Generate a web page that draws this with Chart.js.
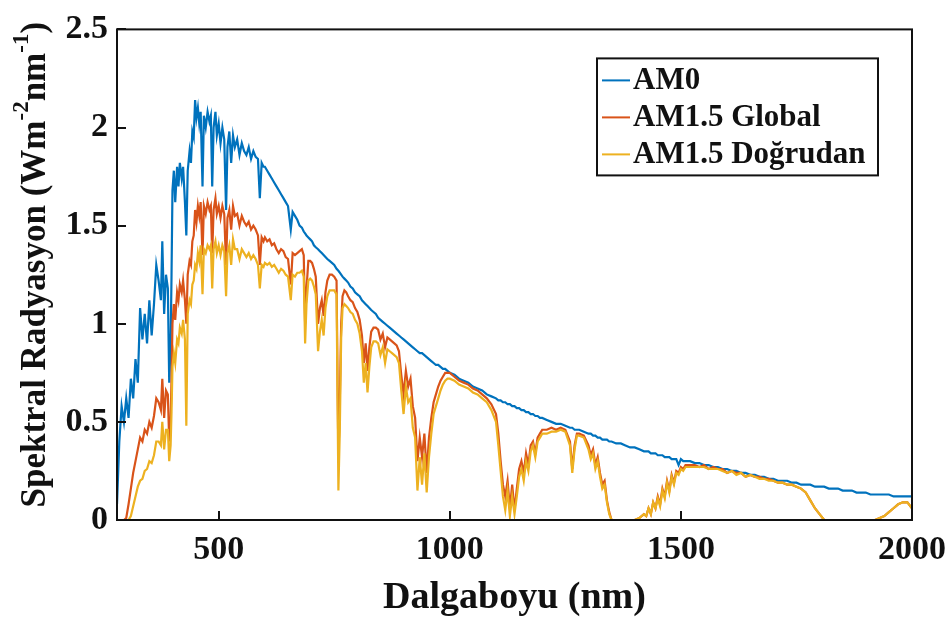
<!DOCTYPE html>
<html>
<head>
<meta charset="utf-8">
<title>Spektral Radyasyon</title>
<script src="https://cdn.jsdelivr.net/npm/chart.js@4.4.1/dist/chart.umd.min.js"></script>
<style>
  html, body { margin: 0; padding: 0; background: #fff; }
  #wrap { width: 952px; height: 619px; }
</style>
</head>
<body>
<div id="wrap"><canvas id="spectrum" width="952" height="619"></canvas></div>
<script>
// Wavelengths (nm), denser in the visible where the lines are
const wavelengths = [
  280, 285, 290, 295, 300, 305, 310, 315, 320, 325, 330, 335, 340, 345, 350, 355, 360, 365, 370, 375,
  378, 382, 386, 390, 393, 396, 398, 400, 403, 406, 410, 413, 416, 420, 423, 427, 430, 433, 437, 440, 443, 446, 449,
  452, 455, 458, 461, 465, 468, 472, 476, 480, 483, 486, 489, 493, 496, 500, 504, 508, 512, 516, 519, 523, 527, 531,
  535, 540, 545, 550, 555, 560, 565, 570, 575, 580, 585, 589, 593, 597, 600, 605, 610, 615, 620, 625, 630, 635, 640, 645, 650, 656,
  660, 665, 670, 675, 680, 684, 687, 690, 694, 698, 702, 706, 710, 715, 719, 723, 727, 731, 735, 740, 745, 750, 755, 759,
  762, 765, 768, 772, 776, 780, 785, 790, 795, 800, 805, 810, 814, 818, 822, 826, 830, 835, 840, 845, 850, 855, 860, 865, 870, 875, 880, 885, 890, 895, 900,
  905, 910, 915, 920, 925, 930, 935, 940, 945, 950, 955, 960, 965, 970, 975, 980, 985, 990, 995, 1000,
  1010, 1020, 1030, 1040, 1050, 1060, 1070, 1080, 1090, 1100, 1105, 1110, 1115, 1120, 1125, 1130, 1135, 1140, 1145, 1150,
  1155, 1160, 1165, 1170, 1175, 1180, 1185, 1190, 1195, 1200,
  1210, 1220, 1230, 1240, 1250, 1260, 1265, 1270, 1275, 1280, 1290, 1300, 1305, 1310, 1315, 1320, 1325, 1330, 1335, 1340, 1345, 1350,
  1360, 1370, 1380, 1390, 1400, 1410, 1420, 1425, 1430, 1435, 1440, 1445, 1450, 1455, 1460, 1465, 1470, 1475, 1480, 1485, 1490, 1495, 1500,
  1505, 1510, 1520, 1530, 1540, 1550, 1560, 1570, 1580, 1590, 1600, 1610, 1620, 1630, 1640, 1650, 1660, 1670, 1680, 1690,
  1700, 1710, 1720, 1730, 1740, 1750, 1760, 1770, 1780, 1790, 1800,
  1810, 1820, 1830, 1840, 1850, 1860, 1870, 1880, 1890, 1900, 1910, 1920, 1930, 1940, 1950, 1960, 1970, 1980, 1990, 2000
];

// Extraterrestrial spectrum
const am0 = [
  0.08, 0.40, 0.58, 0.50, 0.62, 0.52, 0.72, 0.62, 0.82, 0.70, 1.08, 0.92, 1.05, 0.90, 1.12, 0.94, 1.10, 1.30, 1.22, 1.12,
  1.42, 1.05, 1.25, 1.18, 0.70, 0.90, 1.25, 1.68, 1.78, 1.62, 1.80, 1.70, 1.82, 1.74, 1.80, 1.62, 1.45, 1.78, 1.88, 1.82, 1.98, 1.95, 2.14,
  2.05, 2.10, 2.02, 2.08, 1.70, 2.06, 2.00, 2.08, 2.03, 2.06, 1.70, 2.00, 2.08, 1.96, 2.02, 1.92, 2.00, 1.94, 1.58, 1.90, 1.98, 1.82, 1.96,
  1.90, 1.94, 1.86, 1.92, 1.88, 1.86, 1.90, 1.84, 1.88, 1.85, 1.84, 1.64, 1.82, 1.80, 1.80, 1.78, 1.76, 1.74, 1.72, 1.70, 1.68, 1.66, 1.64, 1.62, 1.60, 1.48,
  1.57, 1.55, 1.53, 1.50, 1.49, 1.47, 1.46, 1.45, 1.44, 1.43, 1.42, 1.40, 1.39, 1.38, 1.37, 1.36, 1.35, 1.34, 1.33, 1.32, 1.31, 1.30, 1.28, 1.27,
  1.26, 1.25, 1.24, 1.23, 1.22, 1.21, 1.19, 1.18, 1.16, 1.15, 1.14, 1.12, 1.11, 1.10, 1.09, 1.08, 1.07, 1.06, 1.05, 1.03, 1.02, 1.01, 1.00, 0.99, 0.98, 0.97, 0.96, 0.95, 0.94, 0.93, 0.92,
  0.91, 0.90, 0.89, 0.88, 0.87, 0.86, 0.85, 0.85, 0.84, 0.83, 0.82, 0.81, 0.80, 0.79, 0.79, 0.78, 0.77, 0.77, 0.76, 0.75,
  0.74, 0.72, 0.71, 0.70, 0.68, 0.67, 0.66, 0.64, 0.63, 0.62, 0.61, 0.61, 0.60, 0.60, 0.59, 0.59, 0.58, 0.58, 0.57, 0.57,
  0.56, 0.56, 0.55, 0.55, 0.54, 0.54, 0.53, 0.53, 0.52, 0.52,
  0.51, 0.50, 0.49, 0.49, 0.48, 0.47, 0.47, 0.46, 0.46, 0.46, 0.45, 0.44, 0.44, 0.43, 0.43, 0.42, 0.42, 0.41, 0.41, 0.41, 0.40, 0.40,
  0.39, 0.39, 0.38, 0.37, 0.37, 0.36, 0.35, 0.35, 0.35, 0.34, 0.34, 0.34, 0.33, 0.33, 0.33, 0.32, 0.32, 0.32, 0.31, 0.31, 0.31, 0.28, 0.31,
  0.30, 0.30, 0.30, 0.29, 0.29, 0.28, 0.28, 0.27, 0.27, 0.26, 0.26, 0.25, 0.25, 0.24, 0.24, 0.23, 0.23, 0.22, 0.22, 0.21,
  0.21, 0.20, 0.20, 0.20, 0.19, 0.19, 0.18, 0.18, 0.18, 0.17, 0.17,
  0.17, 0.16, 0.16, 0.16, 0.15, 0.15, 0.15, 0.14, 0.14, 0.14, 0.13, 0.13, 0.13, 0.13, 0.13, 0.12, 0.12, 0.12, 0.12, 0.12
];

// Ground level, global tilt
const am15Global = [
  0, 0, 0, 0, 0.01, 0.08, 0.16, 0.24, 0.30, 0.36, 0.42, 0.40, 0.46, 0.44, 0.50, 0.47, 0.53, 0.62, 0.60, 0.56,
  0.72, 0.52, 0.66, 0.64, 0.40, 0.50, 0.72, 1.00, 1.10, 1.02, 1.16, 1.12, 1.20, 1.16, 1.22, 1.12, 1.00, 1.25, 1.32, 1.30, 1.42, 1.45, 1.58,
  1.52, 1.60, 1.55, 1.62, 1.35, 1.60, 1.56, 1.62, 1.58, 1.60, 1.36, 1.58, 1.64, 1.56, 1.60, 1.54, 1.60, 1.56, 1.30, 1.54, 1.58, 1.48, 1.60,
  1.55, 1.56, 1.50, 1.55, 1.52, 1.50, 1.52, 1.48, 1.50, 1.48, 1.45, 1.30, 1.44, 1.42, 1.44, 1.42, 1.43, 1.40, 1.41, 1.38, 1.36, 1.38, 1.37, 1.34, 1.33, 1.20,
  1.36, 1.35, 1.36, 1.37, 1.38, 1.35, 1.00, 1.18, 1.32, 1.32, 1.31, 1.28, 1.24, 1.00, 1.08, 1.12, 1.04, 1.16, 1.22, 1.25, 1.25, 1.24, 1.22, 0.30,
  0.60, 1.00, 1.14, 1.17, 1.16, 1.14, 1.12, 1.11, 1.08, 1.06, 1.02, 0.94, 0.80, 0.90, 0.76, 0.88, 0.96, 0.98, 0.98, 0.97, 0.92, 0.95, 0.88, 0.93, 0.92, 0.91, 0.90, 0.89, 0.86, 0.74, 0.64,
  0.76, 0.68, 0.72, 0.58, 0.52, 0.30, 0.42, 0.32, 0.44, 0.24, 0.42, 0.52, 0.60, 0.64, 0.68, 0.71, 0.73, 0.75, 0.75, 0.75,
  0.73, 0.71, 0.70, 0.69, 0.67, 0.66, 0.64, 0.62, 0.59, 0.54, 0.44, 0.30, 0.18, 0.12, 0.20, 0.06, 0.18, 0.05, 0.16, 0.26,
  0.30, 0.24, 0.34, 0.28, 0.38, 0.40, 0.34, 0.42, 0.44, 0.46,
  0.46, 0.47, 0.46, 0.47, 0.46, 0.40, 0.26, 0.38, 0.44, 0.44, 0.43, 0.38, 0.33, 0.36, 0.28, 0.32, 0.24, 0.18, 0.20, 0.10, 0.04, 0.00,
  0, 0, 0, 0, 0, 0.01, 0.03, 0.02, 0.06, 0.03, 0.09, 0.06, 0.12, 0.08, 0.16, 0.12, 0.20, 0.15, 0.23, 0.19, 0.25, 0.24, 0.27,
  0.26, 0.28, 0.28, 0.28, 0.27, 0.28, 0.26, 0.27, 0.26, 0.26, 0.24, 0.25, 0.24, 0.24, 0.22, 0.23, 0.22, 0.22, 0.21, 0.21,
  0.20, 0.19, 0.19, 0.18, 0.18, 0.17, 0.16, 0.14, 0.10, 0.06, 0.03,
  0, 0, 0, 0, 0, 0, 0, 0, 0, 0, 0, 0, 0.01, 0.02, 0.04, 0.06, 0.08, 0.09, 0.09, 0.06
];

// Ground level, direct beam
const am15Direct = [
  0, 0, 0, 0, 0, 0, 0.02, 0.07, 0.12, 0.17, 0.20, 0.21, 0.25, 0.26, 0.30, 0.29, 0.33, 0.40, 0.40, 0.38,
  0.50, 0.36, 0.46, 0.46, 0.30, 0.38, 0.55, 0.78, 0.85, 0.80, 0.92, 0.90, 0.98, 0.95, 1.02, 0.92, 0.48, 1.05, 1.12, 1.10, 1.20, 1.22, 1.30,
  1.28, 1.36, 1.32, 1.40, 1.15, 1.38, 1.36, 1.40, 1.38, 1.40, 1.18, 1.38, 1.42, 1.36, 1.40, 1.35, 1.40, 1.37, 1.14, 1.36, 1.40, 1.30, 1.43,
  1.38, 1.38, 1.33, 1.38, 1.36, 1.34, 1.36, 1.33, 1.35, 1.33, 1.30, 1.18, 1.30, 1.29, 1.31, 1.30, 1.31, 1.29, 1.30, 1.28, 1.26, 1.28, 1.27, 1.25, 1.24, 1.12,
  1.25, 1.24, 1.26, 1.26, 1.27, 1.24, 0.90, 1.10, 1.22, 1.23, 1.22, 1.19, 1.15, 0.86, 0.96, 1.02, 0.94, 1.08, 1.14, 1.17, 1.17, 1.17, 1.15, 0.15,
  0.45, 0.93, 1.08, 1.10, 1.09, 1.08, 1.06, 1.05, 1.02, 1.00, 0.95, 0.86, 0.70, 0.80, 0.65, 0.78, 0.88, 0.91, 0.91, 0.90, 0.84, 0.88, 0.80, 0.87, 0.86, 0.85, 0.84, 0.83, 0.80, 0.66, 0.54,
  0.68, 0.60, 0.62, 0.47, 0.42, 0.15, 0.32, 0.18, 0.34, 0.14, 0.32, 0.44, 0.54, 0.58, 0.62, 0.66, 0.69, 0.71, 0.72, 0.72,
  0.71, 0.69, 0.68, 0.67, 0.65, 0.64, 0.62, 0.60, 0.56, 0.50, 0.38, 0.25, 0.12, 0.05, 0.15, 0.02, 0.12, 0.03, 0.12, 0.22,
  0.26, 0.20, 0.30, 0.25, 0.35, 0.38, 0.32, 0.40, 0.42, 0.44,
  0.44, 0.45, 0.45, 0.46, 0.45, 0.38, 0.24, 0.36, 0.43, 0.43, 0.42, 0.36, 0.31, 0.34, 0.26, 0.30, 0.22, 0.16, 0.18, 0.09, 0.03, 0.00,
  0, 0, 0, 0, 0, 0.01, 0.03, 0.02, 0.06, 0.03, 0.09, 0.06, 0.11, 0.07, 0.15, 0.11, 0.19, 0.14, 0.22, 0.18, 0.24, 0.23, 0.26,
  0.25, 0.27, 0.27, 0.27, 0.27, 0.27, 0.26, 0.26, 0.26, 0.25, 0.24, 0.25, 0.23, 0.24, 0.22, 0.23, 0.22, 0.21, 0.21, 0.20,
  0.20, 0.19, 0.19, 0.18, 0.18, 0.17, 0.16, 0.14, 0.10, 0.06, 0.03,
  0, 0, 0, 0, 0, 0, 0, 0, 0, 0, 0, 0, 0.01, 0.02, 0.04, 0.06, 0.08, 0.09, 0.09, 0.06
];

const seriesLabels = ['AM0', 'AM1.5 Global', 'AM1.5 Doğrudan'];
const seriesColors = ['#0072BD', '#D95319', '#EDB120'];
const xTicks = [500, 1000, 1500, 2000];
const yTicks = [0, 0.5, 1, 1.5, 2, 2.5];

const textColor = '#111';
const serif = '"Liberation Serif", "Times New Roman", serif';

function toPoints(values) {
  return wavelengths.map((w, i) => ({ x: w, y: values[i] }));
}

// Box, inward ticks, y title with superscripts and the legend
const axesDecor = {
  id: 'axesDecor',
  afterDatasetsDraw(chart) {
    const { ctx, chartArea: a, scales: { x, y } } = chart;
    ctx.save();
    ctx.strokeStyle = textColor;
    ctx.lineWidth = 2;
    ctx.beginPath();
    xTicks.forEach((v) => {
      const px = Math.round(x.getPixelForValue(v));
      ctx.moveTo(px, a.bottom);
      ctx.lineTo(px, a.bottom - 9);
    });
    yTicks.forEach((v) => {
      const py = Math.round(y.getPixelForValue(v));
      ctx.moveTo(a.left, py);
      ctx.lineTo(a.left + 9, py);
    });
    ctx.stroke();
    ctx.strokeRect(a.left, a.top, a.right - a.left, a.bottom - a.top);

    // legend box
    const lx = a.left + 480, ly = a.top + 29, lw = 281, lh = 117;
    ctx.fillStyle = '#fff';
    ctx.fillRect(lx, ly, lw, lh);
    ctx.strokeRect(lx, ly, lw, lh);
    ctx.font = 'bold 31px ' + serif;
    ctx.textBaseline = 'middle';
    ctx.textAlign = 'left';
    chart.data.datasets.forEach((ds, i) => {
      const ry = ly + 22 + i * 37;
      ctx.strokeStyle = ds.borderColor;
      ctx.lineWidth = 2;
      ctx.beginPath();
      ctx.moveTo(lx + 5, ry);
      ctx.lineTo(lx + 33, ry);
      ctx.stroke();
      ctx.fillStyle = textColor;
      ctx.fillText(ds.label, lx + 36, ry + 1);
    });
    ctx.restore();
  },
  afterDraw(chart) {
    const { ctx, chartArea: a } = chart;
    const parts = [
      { t: 'Spektral Radyasyon (Wm', sup: false },
      { t: '-2', sup: true },
      { t: 'nm', sup: false },
      { t: '-1', sup: true },
      { t: ')', sup: false }
    ];
    const big = 'bold 35px ' + serif;
    const small = 'bold 23px ' + serif;
    ctx.save();
    let total = 0;
    parts.forEach((p) => {
      ctx.font = p.sup ? small : big;
      p.w = ctx.measureText(p.t).width;
      total += p.w;
    });
    ctx.translate(36, (a.top + a.bottom) / 2 - 10);
    ctx.rotate(-Math.PI / 2);
    ctx.fillStyle = textColor;
    ctx.textBaseline = 'middle';
    let cx = -total / 2;
    parts.forEach((p) => {
      ctx.font = p.sup ? small : big;
      ctx.fillText(p.t, cx, p.sup ? -14 : 0);
      cx += p.w;
    });
    ctx.restore();
  }
};

const tickFont = { family: serif, size: 34, weight: 'bold' };

new Chart(document.getElementById('spectrum'), {
  type: 'line',
  data: {
    datasets: [
      { label: seriesLabels[0], data: toPoints(am0), borderColor: seriesColors[0], order: 3 },
      { label: seriesLabels[1], data: toPoints(am15Global), borderColor: seriesColors[1], order: 2 },
      { label: seriesLabels[2], data: toPoints(am15Direct), borderColor: seriesColors[2], order: 1 }
    ]
  },
  options: {
    responsive: false,
    animation: false,
    parsing: false,
    elements: {
      line: { borderWidth: 2.2, tension: 0 },
      point: { radius: 0 }
    },
    layout: { padding: { top: 29, right: 40, bottom: 0, left: 0 } },
    plugins: {
      legend: { display: false },
      tooltip: { enabled: false }
    },
    scales: {
      x: {
        type: 'linear',
        min: 280,
        max: 2000,
        afterBuildTicks: (scale) => { scale.ticks = xTicks.map((v) => ({ value: v })); },
        afterFit: (scale) => {
          scale.height = 99;
          // the 2000 label fits in the outer padding already
          scale.paddingRight = 0;
        },
        grid: { display: false, drawTicks: false },
        border: { display: false },
        ticks: { font: tickFont, color: textColor, padding: 10, maxRotation: 0, autoSkip: false, callback: (v) => String(v) },
        title: {
          display: true,
          text: 'Dalgaboyu (nm)',
          color: textColor,
          font: { family: serif, size: 38, weight: 'bold', lineHeight: 1 },
          padding: { top: 0, bottom: 2 }
        }
      },
      y: {
        type: 'linear',
        min: 0,
        max: 2.5,
        afterBuildTicks: (scale) => { scale.ticks = yTicks.map((v) => ({ value: v })); },
        afterFit: (scale) => { scale.width = 117; },
        grid: { display: false, drawTicks: false },
        border: { display: false },
        ticks: { font: tickFont, color: textColor, padding: 9, callback: (v) => String(v) }
      }
    }
  },
  plugins: [axesDecor]
});
</script>
</body>
</html>
